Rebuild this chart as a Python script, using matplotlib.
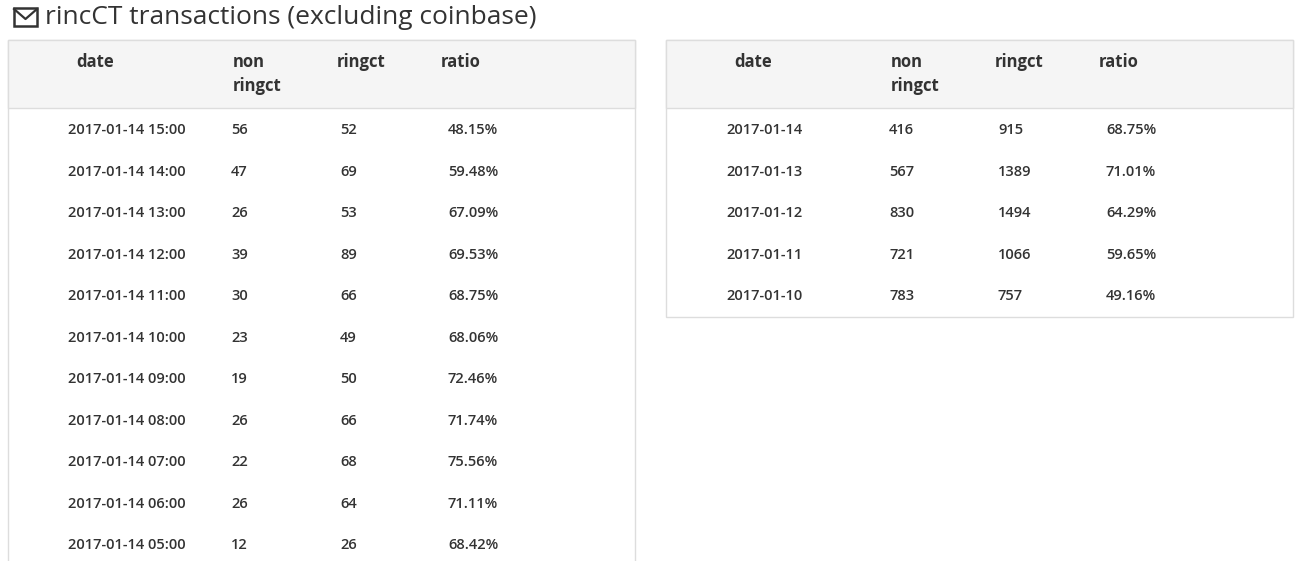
import matplotlib.pyplot as plt
from matplotlib.patches import Rectangle

hourly_dates = ["2017-01-14 15:00", "2017-01-14 14:00", "2017-01-14 13:00", "2017-01-14 12:00",
                "2017-01-14 11:00", "2017-01-14 10:00", "2017-01-14 09:00", "2017-01-14 08:00",
                "2017-01-14 07:00", "2017-01-14 06:00", "2017-01-14 05:00"]
hourly_non = [56, 47, 26, 39, 30, 23, 19, 26, 22, 26, 12]
hourly_ringct = [52, 69, 53, 89, 66, 49, 50, 66, 68, 64, 26]
hourly_ratio = ["48.15%", "59.48%", "67.09%", "69.53%", "68.75%", "68.06%",
                "72.46%", "71.74%", "75.56%", "71.11%", "68.42%"]

daily_dates = ["2017-01-14", "2017-01-13", "2017-01-12", "2017-01-11", "2017-01-10"]
daily_non = [416, 567, 830, 721, 783]
daily_ringct = [915, 1389, 1494, 1066, 757]
daily_ratio = ["68.75%", "71.01%", "64.29%", "59.65%", "49.16%"]

W, H = 1302, 561
fig = plt.figure(figsize=(W / 100, H / 100), dpi=100)
ax = fig.add_axes([0, 0, 1, 1])
ax.set_xlim(0, W)
ax.set_ylim(H, 0)
ax.axis("off")

txt = "#333333"
font = "Lato"

# title + envelope icon
ax.add_patch(Rectangle((14, 8), 23, 18, fill=False, ec=txt, lw=1.8))
ax.plot([14, 25.5, 37], [9, 19, 9], color=txt, lw=1.6)
ax.text(45, 17, "rincCT transactions (excluding coinbase)", fontsize=19,
        color=txt, va="center", family="Open Sans")


def draw_table(x0, x1, bottom, dates, non, ringct, ratio, hx, dx):
    ax.add_patch(Rectangle((x0, 40), x1 - x0, bottom - 40, fc="white", ec="#dddddd", lw=1))
    ax.add_patch(Rectangle((x0, 40), x1 - x0, 68, fc="#f5f5f5", ec="#dddddd", lw=1))
    for x, lab in zip(hx, ["date", "non\nringct", "ringct", "ratio"]):
        ax.text(x, 53, lab, fontsize=12, weight="bold", color=txt, va="top",
                family="Open Sans", linespacing=1.45)
    for i in range(len(dates)):
        y = 130 + i * 41.5
        for x, v in zip(dx, [dates[i], non[i], ringct[i], ratio[i]]):
            ax.text(x, y, str(v), fontsize=10.5, color=txt, va="center",
                    family="Open Sans", weight="semibold")


draw_table(8, 635, 600, hourly_dates, hourly_non, hourly_ringct, hourly_ratio,
           [76, 233, 337, 441], [68, 231, 340, 448])
draw_table(666, 1293, 317, daily_dates, daily_non, daily_ringct, daily_ratio,
           [734, 891, 995, 1099], [726, 889, 998, 1106])

fig.savefig("out.png", dpi=100)
